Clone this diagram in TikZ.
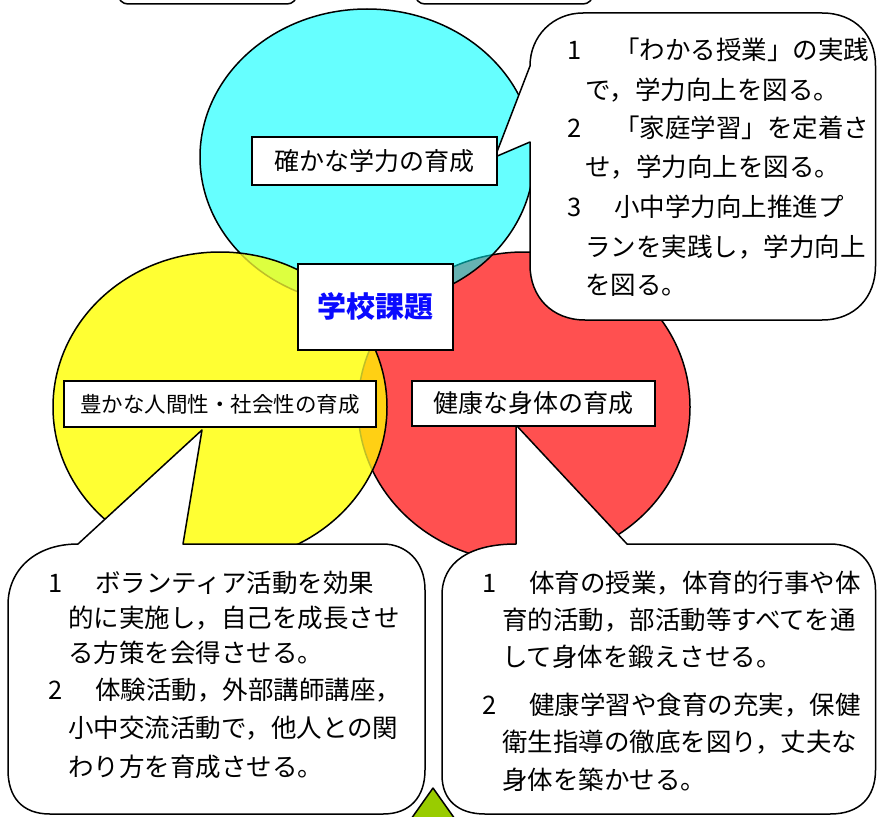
\documentclass[tikz,border=0pt]{standalone}
\usepackage{fontspec}
\newfontfamily\jp{Noto Sans CJK JP}
\definecolor{cy}{RGB}{102,255,255}
\definecolor{ye}{RGB}{255,255,51}
\definecolor{rd}{RGB}{255,80,80}
\definecolor{tealfill}{RGB}{102,178,178}
\definecolor{tealline}{RGB}{0,128,128}
\definecolor{limefill}{RGB}{221,255,63}
\definecolor{orangefill}{RGB}{255,208,20}
\definecolor{oliveline}{RGB}{190,190,40}
\definecolor{grn}{RGB}{153,204,0}
\definecolor{blu}{RGB}{10,10,255}
\tikzset{
  lw/.style={line width=1.5pt},
  cbox/.style={draw=black, fill=white, line width=1.5pt, line join=round},
  lab/.style={draw=black, fill=white, line width=1.5pt, inner sep=0pt, font=\jp\fontsize{25}{30}\selectfont},
  txt/.style={anchor=base west, inner sep=0pt, font=\jp\fontsize{25.5}{30}\selectfont},
}
\newcommand{\nb}[1]{\makebox[47pt][l]{#1}}
\def\cyanE{(367,157) ellipse [x radius=167pt, y radius=148pt]}
\def\yellowE{(220,407) ellipse [x radius=167pt, y radius=155pt]}
\def\redE{(524,407) ellipse [x radius=166pt, y radius=155pt]}
\begin{document}
\begin{tikzpicture}[x=1pt,y=-1pt]
\useasboundingbox (0,0) rectangle (877,816);
\begin{scope}
\clip (0,0) rectangle (877,816);
% circles
\fill[rd] \redE;
\draw[lw] \redE;
\fill[cy] \cyanE;
\begin{scope}
  \clip \cyanE;
  \fill[tealfill] \redE;
  \draw[lw, tealline] \redE;
\end{scope}
\draw[lw] \cyanE;
\fill[ye] \yellowE;
\begin{scope}
  \clip \yellowE;
  \fill[limefill] \cyanE;
  \fill[orangefill] \redE;
  \draw[lw, oliveline] \cyanE;
  \draw[lw, oliveline] \redE;
\end{scope}
\draw[lw] \yellowE;

% shapes cut at the top edge
\draw[cbox, rounded corners=10pt] (118,-30) rectangle (297,4);
\draw[cbox, rounded corners=10pt] (415,-30) rectangle (593,4);

% top-right callout
\draw[cbox] (530,142) -- (530,265)
  .. controls (530,297) and (552,320) .. (585,320) -- (822,320)
  .. controls (855,320) and (875.5,297) .. (875.5,266) -- (875.5,66)
  .. controls (875.5,35) and (855,13) .. (822,13) -- (583,13)
  .. controls (553,13) and (530,36) .. (530,66)
  -- (495,157) -- cycle;

% bottom-left callout
\draw[cbox] (78,544) .. controls (35,544) and (8,570) .. (8,605) -- (8,770)
  .. controls (8,797) and (22,814) .. (50,814) -- (383,814)
  .. controls (410,814) and (425,797) .. (425,770) -- (425,590)
  .. controls (425,560) and (405,544) .. (383,544) -- (183,544)
  -- (202,430) -- cycle;

% bottom-right callout
\draw[cbox] (627,544) -- (830,544)
  .. controls (857,544) and (875.5,562) .. (875.5,590) -- (875.5,770)
  .. controls (875.5,797) and (860,814) .. (830,814) -- (485,814)
  .. controls (458,814) and (442,800) .. (442,775) -- (442,595)
  .. controls (442,562) and (470,544) .. (516,544) -- (516,425) -- cycle;

% green triangle
\draw[lw, fill=grn, line join=round] (433,788) -- (399,836) -- (467,836) -- cycle;

% labels
\node[lab, minimum width=245pt, minimum height=48pt] (lgaku) at (374.5,161) {確かな学力の育成};
\node[lab, minimum width=155pt, minimum height=86pt, font=\jp\bfseries\fontsize{29}{32}\selectfont, text=blu] (lkadai) at (375.5,307) {学校課題};
\node[lab, minimum width=312pt, minimum height=46pt, font=\jp\fontsize{21.5}{26}\selectfont] (lyuta) at (220,404) {豊かな人間性・社会性の育成};
\node[lab, minimum width=243pt, minimum height=45pt] (lken) at (533.5,403.5) {健康な身体の育成};

% top-right text
\node[txt] (tr1) at (567,59.5) {\nb{1}「わかる授業」の実践};
\node[txt] (tr2) at (585,99.5) {で，学力向上を図る。};
\node[txt] (tr3) at (567,137.8) {\nb{2}「家庭学習」を定着さ};
\node[txt] (tr4) at (585,176.2) {せ，学力向上を図る。};
\node[txt] (tr5) at (567,216.2) {\nb{3}小中学力向上推進プ};
\node[txt] (tr6) at (585,256.2) {ランを実践し，学力向上};
\node[txt] (tr7) at (585,294.5) {を図る。};

% bottom-left text
\node[txt] (bl1) at (48,592.5) {\nb{1}ボランティア活動を効果};
\node[txt] (bl2) at (68,627.5) {的に実施し，自己を成長させ};
\node[txt] (bl3) at (68,662.5) {る方策を会得させる。};
\node[txt] (bl4) at (48,699.5) {\nb{2}体験活動，外部講師講座，};
\node[txt] (bl5) at (68,737.5) {小中交流活動で，他人との関};
\node[txt] (bl6) at (68,776.5) {わり方を育成させる。};

% bottom-right text
\node[txt] (br1) at (482,592.5) {\nb{1}体育の授業，体育的行事や体};
\node[txt] (br2) at (502,629.5) {育的活動，部活動等すべてを通};
\node[txt] (br3) at (502,666.5) {して身体を鍛えさせる。};
\node[txt] (br4) at (482,714.5) {\nb{2}健康学習や食育の充実，保健};
\node[txt] (br5) at (502,751.5) {衛生指導の徹底を図り，丈夫な};
\node[txt] (br6) at (502,789.5) {身体を築かせる。};
\end{scope}
\end{tikzpicture}
\end{document}
